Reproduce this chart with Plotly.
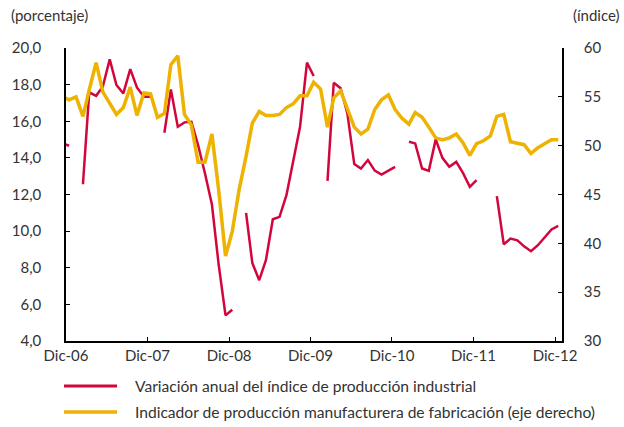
import pandas as pd
import plotly.graph_objects as go

# Months: Nov-06 .. Dec-12 (data plotted at mid-month)
month_starts = pd.date_range("2006-11-01", "2012-12-01", freq="MS")
months = [d + pd.Timedelta(days=14) for d in month_starts]

# Variación anual del índice de producción industrial (%), left axis
ipi_var = [
    14.8, 14.66,                                                   # Nov-06, Dic-06
    None, 12.56, 17.58, 17.39, 17.9, 19.38, 17.98, 17.52, 18.85, 17.85, 17.34, 17.34,   # 2007
    None, 15.37, 17.74, 15.70, 15.94, 15.97, 14.70, 13.15, 11.45, 8.2, 5.40, 5.71,      # 2008
    None, 11.0, 8.26, 7.32, 8.41, 10.65, 10.78, 11.96, 13.78, 15.70, 19.20, 18.47,      # 2009
    None, 12.74, 18.10, 17.80, 16.43, 13.66, 13.42, 13.88, 13.30, 13.09, 13.29, 13.51,  # 2010
    None, 14.88, 14.79, 13.42, 13.29, 15.01, 14.0, 13.51, 13.78, 13.18, 12.42, 12.78,   # 2011
    None, None, 11.91, 9.28, 9.59, 9.50, 9.17, 8.90, 9.23, 9.63, 10.09, 10.29,          # 2012
]

# Indicador de producción manufacturera de fabricación (índice), right axis
pmi = [
    55.0, 54.7,
    55.0, 53.0, 55.7, 58.5, 55.5, 54.3, 53.2, 53.9, 56.0, 53.1, 55.4, 55.3,
    52.9, 53.3, 58.3, 59.2, 53.2, 52.1, 48.3, 48.3, 51.2, 45.5, 38.7, 41.2,
    45.5, 48.9, 52.3, 53.5, 53.1, 53.1, 53.2, 53.9, 54.3, 55.1, 55.1, 56.5,
    55.8, 51.9, 54.9, 55.6, 53.7, 51.9, 51.2, 51.7, 53.7, 54.7, 55.2, 53.7,
    52.8, 52.2, 53.4, 52.9, 51.9, 50.8, 50.6, 50.8, 51.2, 50.3, 49.0, 50.2,
    50.5, 51.0, 53.0, 53.2, 50.4, 50.2, 50.1, 49.2, 49.8, 50.2, 50.6, 50.6,
]

x_tick_dates = ["2006-12-01", "2007-12-01", "2008-12-01", "2009-12-01",
                "2010-12-01", "2011-12-01", "2012-12-01"]
x_tick_labels = ["Dic-06", "Dic-07", "Dic-08", "Dic-09", "Dic-10", "Dic-11", "Dic-12"]
left_ticks = [4, 6, 8, 10, 12, 14, 16, 18, 20]
left_labels = ["4,0", "6,0", "8,0", "10,0", "12,0", "14,0", "16,0", "18,0", "20,0"]
right_ticks = [30, 35, 40, 45, 50, 55, 60]
right_labels = ["30", "35", "40", "45", "50", "55", "60"]

name_red = "Variación anual del índice de producción industrial"
name_yel = "Indicador de producción manufacturera de fabricación (eje derecho)"

RED = "#D2063C"
YEL = "#EEB200"
TXT = "#333333"
FONT = "Lato, 'Open Sans', sans-serif"

W, H = 624, 427
L, R, T, B = 66, 62, 48, 86
pw, ph = W - L - R, H - T - B


def px2x(px):
    return (px - L) / pw


def py2y(py):
    return (H - B - py) / ph


fig = go.Figure()
fig.add_trace(go.Scatter(x=months, y=ipi_var, mode="lines", name=name_red,
                         line=dict(color=RED, width=2.5), connectgaps=False,
                         showlegend=False))
fig.add_trace(go.Scatter(x=months, y=pmi, mode="lines", name=name_yel, yaxis="y2",
                         line=dict(color=YEL, width=3.5), showlegend=False))

axis_common = dict(showgrid=False, zeroline=False, showline=True, linecolor="black",
                   linewidth=1.5, ticks="inside", ticklen=4, tickcolor="black",
                   tickwidth=1, tickfont=dict(family=FONT, size=15, color=TXT))

fig.update_layout(
    width=W, height=H,
    margin=dict(l=L, r=R, t=T, b=B),
    paper_bgcolor="white", plot_bgcolor="white",
    font=dict(family=FONT, size=15, color=TXT),
    xaxis=dict(type="date", range=["2006-12-01", "2013-01-01"],
               tickvals=x_tick_dates, ticktext=x_tick_labels, **axis_common),
    yaxis=dict(range=[4, 20], tickvals=left_ticks, ticktext=left_labels,
               ticklabelstandoff=20, **axis_common),
    yaxis2=dict(range=[30, 60], tickvals=right_ticks, ticktext=right_labels,
                overlaying="y", side="right", ticklabelstandoff=17, **axis_common),
    showlegend=False,
)

# Axis unit labels
fig.add_annotation(text="(porcentaje)", xref="paper", yref="paper",
                   x=px2x(9), y=py2y(15), xanchor="left", yanchor="middle",
                   showarrow=False, font=dict(family=FONT, size=15, color=TXT))
fig.add_annotation(text="(índice)", xref="paper", yref="paper",
                   x=px2x(622), y=py2y(15), xanchor="right", yanchor="middle",
                   showarrow=False, font=dict(family=FONT, size=15, color=TXT))

# Legend (drawn below the plot)
for name, color, width, py in [(name_red, RED, 3, 386), (name_yel, YEL, 3.5, 412)]:
    fig.add_shape(type="line", xref="paper", yref="paper",
                  x0=px2x(64), x1=px2x(117), y0=py2y(py), y1=py2y(py),
                  line=dict(color=color, width=width))
    fig.add_annotation(text=name, xref="paper", yref="paper",
                       x=px2x(133), y=py2y(py), xanchor="left", yanchor="middle",
                       showarrow=False, font=dict(family=FONT, size=15.6, color=TXT))

fig.write_html("out.html",
               config={"displayModeBar": False},
               post_script="document.body.style.margin='0';document.body.style.padding='0';")
